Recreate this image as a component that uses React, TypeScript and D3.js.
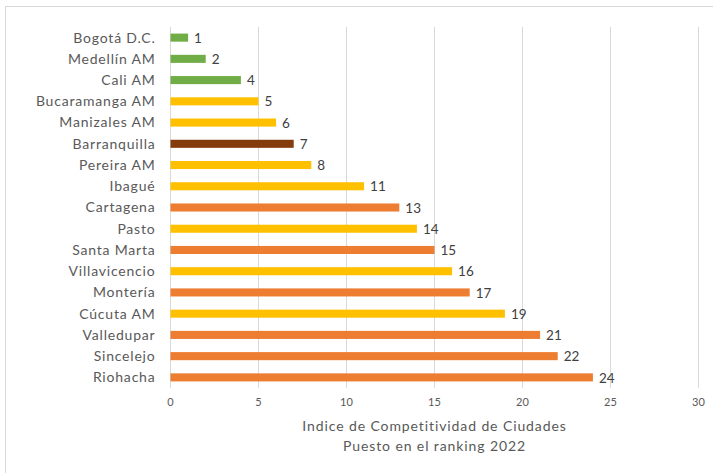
import * as d3 from "d3";

const cities = [
  "Bogotá D.C.", "Medellín AM", "Cali AM", "Bucaramanga AM", "Manizales AM", "Barranquilla",
  "Pereira AM", "Ibagué", "Cartagena", "Pasto", "Santa Marta", "Villavicencio",
  "Montería", "Cúcuta AM", "Valledupar", "Sincelejo", "Riohacha",
];
const ranks = [1, 2, 4, 5, 6, 7, 8, 11, 13, 14, 15, 16, 17, 19, 21, 22, 24];
const groups = [
  "g", "g", "g", "y", "y", "b", "y", "y", "o", "y", "o", "y", "o", "y", "o", "o", "o",
];
const xTicks = [0, 5, 10, 15, 20, 25, 30];
const titleLines = ["Indice de Competitividad de Ciudades", "Puesto en el ranking 2022"];

const COLORS: Record<string, string> = {
  g: "#70AD47",
  y: "#FFC000",
  b: "#843C0C",
  o: "#ED7D31",
};

const W = 713;
const H = 473;
const M = { top: 27, right: 14.5, bottom: 85, left: 170.5 };
const FONT = "Lato, 'Open Sans', sans-serif";

export default function App() {
  const innerW = W - M.left - M.right;
  const innerH = H - M.top - M.bottom;

  const x = d3.scaleLinear().domain([0, 30]).range([0, innerW]);
  const y = d3.scaleBand().domain(cities).range([0, innerH]).paddingInner(0.62).paddingOuter(0.31);

  return (
    <svg
      width={W}
      height={H}
      style={{ position: "absolute", left: 0, top: 0, background: "#fff" }}
      fontFamily={FONT}
    >
      <rect x={5.5} y={6.5} width={W + 10} height={H + 10} fill="none" stroke="#d9d9d9" />
      <g transform={`translate(${M.left},${M.top})`}>
        {xTicks.map((t) => (
          <g key={t}>
            <line x1={x(t)} x2={x(t)} y1={0} y2={innerH} stroke="#d9d9d9" strokeWidth={1} />
            <text x={x(t)} y={innerH + 18} textAnchor="middle" fontSize={11} fill="#595959">
              {t}
            </text>
          </g>
        ))}
        {cities.map((c, i) => {
          const yy = y(c) ?? 0;
          const cy = yy + y.bandwidth() / 2;
          return (
            <g key={c}>
              <rect x={x(0)} y={yy} width={x(ranks[i]) - x(0)} height={y.bandwidth()} fill={COLORS[groups[i]]} />
              <text
                x={-15}
                y={cy}
                dy="0.35em"
                textAnchor="end"
                fontSize={14}
                letterSpacing={0.8}
                fill="#595959"
              >
                {c}
              </text>
              <text x={x(ranks[i]) + 6} y={cy} dy="0.38em" fontSize={13.5} fill="#404040">
                {ranks[i]}
              </text>
            </g>
          );
        })}
        {titleLines.map((l, i) => (
          <text
            key={i}
            x={innerW / 2}
            y={innerH + 43 + i * 20}
            textAnchor="middle"
            fontSize={14}
            letterSpacing={0.9}
            fill="#595959"
          >
            {l}
          </text>
        ))}
      </g>
    </svg>
  );
}
